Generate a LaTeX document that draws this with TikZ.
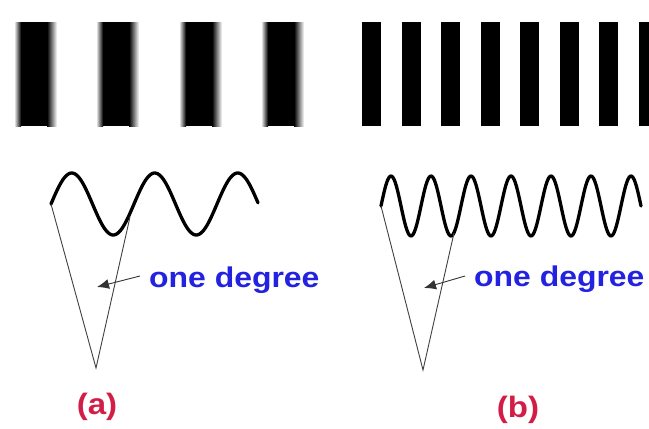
\documentclass[tikz,border=0pt]{standalone}
\usepackage{fontspec}
\usepackage{xcolor}
\usepackage{tikz}
\usetikzlibrary{arrows.meta}
\newfontfamily\labelfont[FakeStretch=1.12]{Liberation Sans}
\definecolor{degblue}{HTML}{2222E0}
\definecolor{tagred}{HTML}{D21E46}

\begin{document}
\begin{tikzpicture}[x=1pt, y=-1pt,
    wave/.style={line width=3.3pt, line cap=round, line join=round},
    sideline/.style={line width=0.9pt, black!75},
    pointer/.style={line width=0.9pt, black!80, -{Latex[length=12pt, width=10pt]}},
    degtext/.style={text=degblue, font=\labelfont\fontsize{28.5}{32}\selectfont\bfseries, inner sep=0pt, anchor=base west},
    tagtext/.style={text=tagred, font=\labelfont\fontsize{29.5}{32}\selectfont\bfseries, inner sep=0pt, anchor=base}]
  \path[use as bounding box, fill=white] (0,0) rectangle (649,429);

  % (a) wide, soft bars
  \foreach \x in {14,96,179,261} {
    \shade[left color=white, right color=black] (\x,22) rectangle (\x+7,126);
    \fill[black] (\x+7,22) rectangle (\x+33,126);
    \shade[left color=black, right color=white] (\x+33,22) rectangle (\x+43,126);
  }

  % (b) narrow bars, the last one runs off the edge
  \begin{scope}
    \clip (0,0) rectangle (649,429);
    \foreach \k in {0,...,7}
      \fill[black] (362+39.5*\k,22) rectangle (381+39.5*\k,126);
  \end{scope}

  % waves
  \draw[wave] plot[domain=51:258, samples=150] (\x, {204-31*sin(4.3373*(\x-51))});
  \draw[wave] plot[domain=381:641, samples=220] (\x, {206-30*sin(9*(\x-381))});

  % (a) viewing angle
  \coordinate (aleft) at (51,204);
  \coordinate (aright) at (130,217);
  \coordinate (aapex) at (96,368);
  \coordinate (atip) at (97,287);
  \draw[sideline] (aleft) -- (aapex) -- (aright);
  \node[degtext] (adeg) at (149,287) {one degree};
  \draw[pointer] (adeg.west |- 0,276) ++(-9,0) coordinate (afrom) -- (atip);
  \node[tagtext] (atag) at (97,414) {(a)};

  % (b) viewing angle
  \coordinate (bleft) at (381,206);
  \coordinate (bright) at (454,233);
  \coordinate (bapex) at (423,370);
  \coordinate (btip) at (424,288);
  \draw[sideline] (bleft) -- (bapex) -- (bright);
  \node[degtext] (bdeg) at (474,286) {one degree};
  \draw[pointer] (bdeg.west |- 0,276) ++(-9,0) coordinate (bfrom) -- (btip);
  \node[tagtext] (btag) at (518,417) {(b)};
\end{tikzpicture}
\end{document}
